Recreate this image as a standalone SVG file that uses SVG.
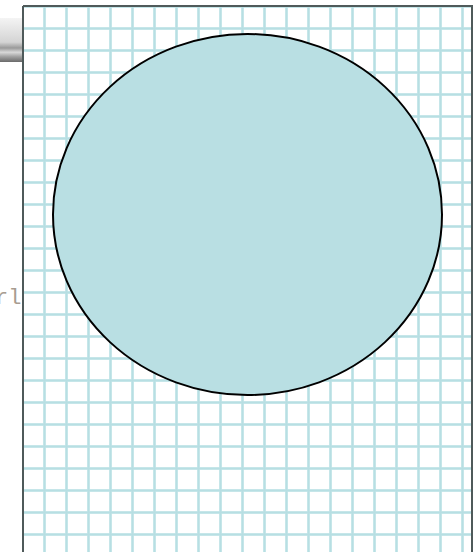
<svg xmlns="http://www.w3.org/2000/svg" width="475" height="552" viewBox="0 0 475 552">
<defs>
<pattern id="grid" x="43" y="27" width="22" height="22" patternUnits="userSpaceOnUse">
<rect x="0" y="0" width="22" height="22" fill="#ffffff"/>
<rect x="0" y="0" width="3" height="22" fill="#d6eef0"/>
<rect x="0" y="0" width="22" height="3" fill="#d6eef0"/>
<rect x="0.5" y="0" width="2" height="22" fill="#b7dfe3"/>
<rect x="0" y="0.5" width="22" height="2" fill="#b7dfe3"/>
</pattern>
<linearGradient id="bar" x1="0" y1="0" x2="0" y2="1">
<stop offset="0" stop-color="#f4f4f4"/>
<stop offset="0.55" stop-color="#d4d4d4"/>
<stop offset="0.68" stop-color="#9a9a9a"/>
<stop offset="0.78" stop-color="#d8d8d8"/>
<stop offset="0.88" stop-color="#a0a0a0"/>
<stop offset="1" stop-color="#6a6a6a"/>
</linearGradient>
<style>
.lbl{font-family:"Liberation Mono",monospace;font-size:22px;fill:#a89c90}
</style>
</defs>
<rect width="475" height="552" fill="#ffffff"/>
<g id="toolbar">
<rect x="0" y="18" width="23" height="44" fill="url(#bar)"/>
</g>
<text class="lbl" x="-5" y="304">rl</text>
<g id="panel">
<rect x="23" y="6" width="449" height="560" fill="url(#grid)"/>
<path d="M23 6V552M23 6H472V552" fill="none" stroke="#4f5a5a" stroke-width="2"/>
</g>
<g id="ellipse-node">
<ellipse cx="247.5" cy="214.5" rx="194.5" ry="180.5" fill="#b9dfe3" stroke="#000000" stroke-width="2"/>
</g>
<g id="connectors"></g>
</svg>
